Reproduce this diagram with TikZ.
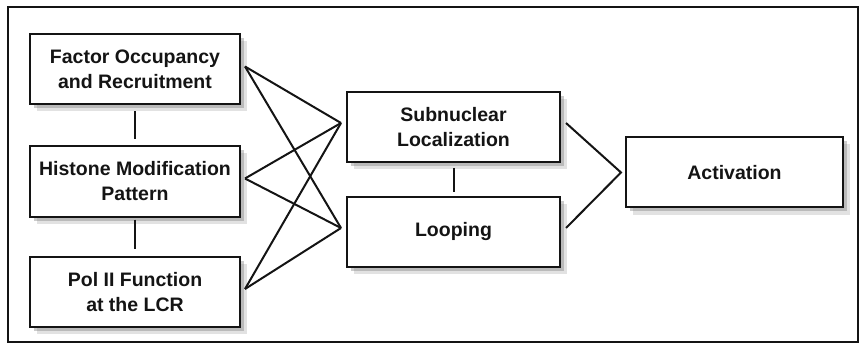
\documentclass[tikz,border=0pt]{standalone}
\usepackage{fontspec}
\setmainfont{Liberation Sans}
\definecolor{inkgray}{RGB}{20, 20, 20}
\definecolor{shadowgray}{RGB}{110, 110, 110}
\usetikzlibrary{shadows, calc}
\tikzset{
    box/.style={
        rectangle, draw=inkgray, fill=white, line width=2pt,
        minimum width=210pt, minimum height=70pt,
        font=\fontsize{19.5}{25}\selectfont\bfseries, align=center, text=inkgray,
        drop shadow={shadow xshift=7pt, shadow yshift=-7pt, fill=shadowgray, opacity=0.2},
        drop shadow={shadow xshift=4pt, shadow yshift=-4pt, fill=shadowgray, opacity=0.35}
    },
    link/.style={line width=2pt, color=inkgray},
    frame/.style={line width=2pt, color=inkgray}
}

\begin{document}
\begin{tikzpicture}[x=1pt, y=-1pt]
    \useasboundingbox (0,0) rectangle (860,350);
    \draw[frame] (8,7) rectangle (858,342);

    % left column
    \node[box] (fac) at (135,69.5) {Factor Occupancy\\and Recruitment};
    \node[box] (his) at (135,181.5) {Histone Modification\\Pattern};
    \node[box] (pol) at (135,292) {Pol II Function\\at the LCR};

    % middle column
    \node[box, minimum width=213pt] (sub) at (453.5,127) {Subnuclear\\Localization};
    \node[box, minimum width=213pt] (loop) at (453.5,232) {Looping};

    % result
    \node[box, minimum width=217pt] (act) at (734.5,172.5) {Activation};

    % fan into the middle column
    \foreach \src in {fac, his, pol}
      \foreach \dst in {sub, loop}
        \draw[link] ([xshift=4pt, yshift=3pt]\src.east) -- ([xshift=-5pt, yshift=4pt]\dst.west);

    \draw[link] ([xshift=5pt, yshift=4pt]sub.east) -- ([xshift=-4pt]act.west)
        -- ([xshift=5pt, yshift=4pt]loop.east);

    % vertical ties
    \draw[link] ([yshift=-6pt]fac.south) -- ([yshift=6pt]his.north);
    \draw[link] ([yshift=-2pt]his.south) -- ([yshift=7pt]pol.north);
    \draw[link] ([yshift=-5pt]sub.south) -- ([yshift=4pt]loop.north);
\end{tikzpicture}
\end{document}
